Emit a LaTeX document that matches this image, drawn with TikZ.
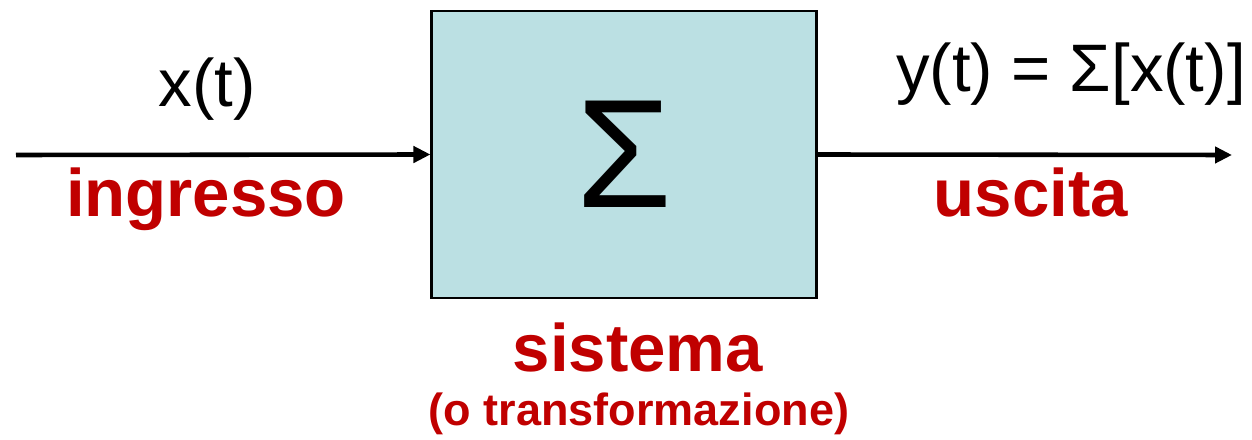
\documentclass[tikz,border=0pt]{standalone}
\usepackage{fontspec}
\setmainfont{Liberation Sans}
\usetikzlibrary{arrows.meta}
\definecolor{boxfill}{RGB}{187,224,227}
\definecolor{labelred}{RGB}{192,0,0}
\begin{document}
\begin{tikzpicture}[x=0.01cm, y=-0.01cm, >={Triangle[length=1.7mm,width=1.6mm]},
  signal/.style={anchor=base, inner sep=0pt, font=\fontsize{19.1}{22}\selectfont},
  redlabel/.style={anchor=base, inner sep=0pt, text=labelred, font=\fontsize{19.1}{22}\selectfont\bfseries}]
\useasboundingbox (0,0) rectangle (1252,440);
\node[draw, line width=0.8pt, fill=boxfill, minimum width=38.4mm, minimum height=28.7mm, inner sep=0pt, font=\fontsize{44}{50}\selectfont] (sys) at (624,154.5) {Σ};
\coordinate (in) at (16,155);
\coordinate (out) at (1232,155);
\node[signal] (x) at (207,107) {x(t)};
\node[signal] (y) at (1071,92) {y(t) = Σ[x(t)]};
\node[redlabel] (ingr) at (206,217) {ingresso};
\node[redlabel] (usc) at (1031,217) {uscita};
\node[redlabel] (sis) at (638,372) {sistema};
\node[anchor=base, inner sep=0pt, text=labelred, font=\fontsize{12.8}{15}\selectfont\bfseries] (trasf) at (639,425) {(o transformazione)};
\draw[->, line width=1.3pt] (in) -- (sys.west);
\draw[->, line width=1.3pt] (sys.east) -- (out);
\end{tikzpicture}
\end{document}
